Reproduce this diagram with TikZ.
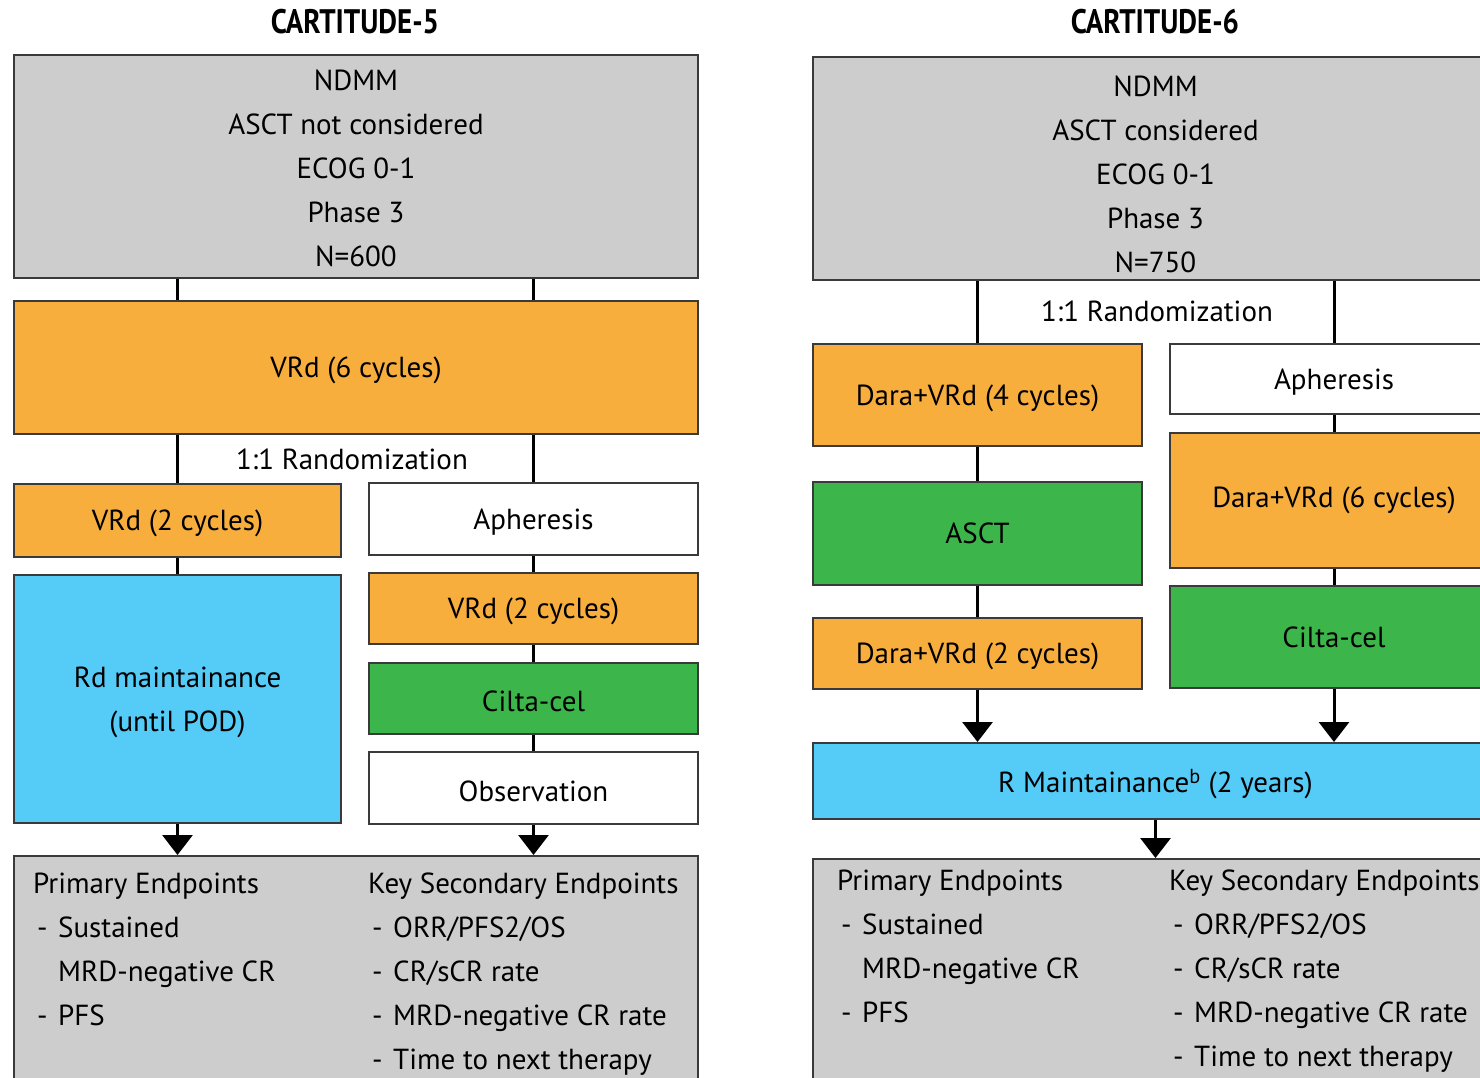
\documentclass[tikz,border=0pt]{standalone}
\usepackage{fontspec}
\setmainfont{PT Sans}
\newfontfamily\ttlfont{PT Sans}[FakeStretch=0.85]
\usetikzlibrary{arrows.meta,calc}
\definecolor{cgray}{HTML}{CDCDCD}
\definecolor{corange}{HTML}{F8AE3C}
\definecolor{cblue}{HTML}{55CBF8}
\definecolor{cgreen}{HTML}{3CB54A}
\definecolor{cborder}{HTML}{3A3A3A}
\tikzset{
  box/.style={draw=cborder, line width=2pt, inner sep=0pt, anchor=north west, align=center,
    font=\fontsize{29}{44}\selectfont},
  txt/.style={inner sep=0pt, font=\fontsize{29}{44}\selectfont},
  ttl/.style={inner sep=0pt, font=\ttlfont\bfseries\fontsize{34}{40}\selectfont},
  conn/.style={draw=black, line width=3pt},
  arr/.style={draw=black, line width=3pt, -{Triangle[width=30pt,length=20pt]}},
}
\newcommand{\dsh}{\makebox[25pt][l]{\hspace{4pt}-}}
\newcommand{\lo}[1]{\raisebox{-3pt}[\height][\depth]{#1}}
\begin{document}
\begin{tikzpicture}[x=1pt,y=-1pt]
\useasboundingbox (0,0) rectangle (1480,1077);
\clip (0,0) rectangle (1480,1077);
% ---------------- CARTITUDE-5 ----------------
\node[ttl] (title5) at (355,22) {CARTITUDE-5};
\node[box, fill=cgray, minimum width=684pt, minimum height=223pt] (ndmm5) at (13,54) {};
\node[txt, align=center] (ndmm5t) at ([yshift=-2pt]ndmm5.center) {NDMM\\ASCT not considered\\ECOG 0-1\\Phase 3\\N=600};
\node[box, fill=corange, minimum width=684pt, minimum height=133pt] (vrd6) at (13,300) {\lo{VRd (6 cycles)}};
\node[txt] (rand5) at (352,459) {1:1 Randomization};
\node[box, fill=corange, minimum width=327pt, minimum height=73pt] (vrd2a) at (13,483) {\lo{VRd (2 cycles)}};
\node[box, fill=cblue, minimum width=327pt, minimum height=248pt] (rd) at (13,574) {};
\node[txt, align=center] (rdt) at ([yshift=-3pt]rd.center) {Rd maintainance\\(until POD)};
\node[box, fill=white, minimum width=329pt, minimum height=72pt] (aph5) at (368,482) {\lo{Apheresis}};
\node[box, fill=corange, minimum width=329pt, minimum height=71pt] (vrd2b) at (368,572) {\lo{VRd (2 cycles)}};
\node[box, fill=cgreen, minimum width=329pt, minimum height=71pt] (cilta5) at (368,662) {\lo{Cilta-cel}};
\node[box, fill=white, minimum width=329pt, minimum height=72pt] (obs) at (368,751) {\lo{Observation}};
\node[box, fill=cgray, minimum width=684pt, minimum height=240pt] (end5) at (13,855) {};
\node[txt, align=left, anchor=north west] (prim5) at (33,873)
  {Primary Endpoints\\\dsh Sustained\\\hspace{25pt}MRD-negative CR\\\dsh PFS};
\node[txt, align=left, anchor=north west] (sec5) at (368,873)
  {Key Secondary Endpoints\\\dsh ORR/PFS2/OS\\\dsh CR/sCR rate\\\dsh MRD-negative CR rate\\\dsh Time to next therapy};
\draw[conn] (vrd2a.north |- ndmm5.south) -- (vrd2a.north |- vrd6.north);
\draw[conn] (aph5.north |- ndmm5.south) -- (aph5.north |- vrd6.north);
\draw[conn] (vrd2a.north |- vrd6.south) -- (vrd2a.north);
\draw[conn] (aph5.north |- vrd6.south) -- (aph5.north);
\draw[conn] (vrd2a.south) -- (rd.north);
\draw[conn] (aph5.south) -- (vrd2b.north);
\draw[conn] (vrd2b.south) -- (cilta5.north);
\draw[conn] (cilta5.south) -- (obs.north);
\draw[arr] (rd.south) -- (rd.south |- end5.north);
\draw[arr] (obs.south) -- (obs.south |- end5.north);
% ---------------- CARTITUDE-6 ----------------
\node[ttl] (title6) at (1155,22) {CARTITUDE-6};
\node[box, fill=cgray, minimum width=685pt, minimum height=223pt] (ndmm6) at (812,56) {};
\node[txt, align=center] (ndmm6t) at ([yshift=-5.5pt]ndmm6.center) {NDMM\\ASCT considered\\ECOG 0-1\\Phase 3\\N=750};
\node[txt] (rand6) at (1157,311) {1:1 Randomization};
\node[box, fill=corange, minimum width=329pt, minimum height=102pt] (dara4) at (812,343) {\lo{Dara+VRd (4 cycles)}};
\node[box, fill=cgreen, minimum width=329pt, minimum height=103pt] (asct) at (812,481) {ASCT};
\node[box, fill=corange, minimum width=329pt, minimum height=71pt] (dara2) at (812,617) {\lo{Dara+VRd (2 cycles)}};
\node[box, fill=white, minimum width=328pt, minimum height=70pt] (aph6) at (1169,343) {\lo{Apheresis}};
\node[box, fill=corange, minimum width=328pt, minimum height=135pt] (dara6) at (1169,432) {Dara+VRd (6 cycles)};
\node[box, fill=cgreen, minimum width=328pt, minimum height=102pt] (cilta6) at (1169,585) {Cilta-cel};
\node[box, fill=cblue, minimum width=685pt, minimum height=76pt] (rmaint) at (812,742) {\lo{R Maintainance\textsuperscript{b} (2 years)}};
\node[box, fill=cgray, minimum width=685pt, minimum height=240pt] (end6) at (812,858) {};
\node[txt, align=left, anchor=north west] (prim6) at (837,870)
  {Primary Endpoints\\\dsh Sustained\\\hspace{25pt}MRD-negative CR\\\dsh PFS};
\node[txt, align=left, anchor=north west] (sec6) at (1169,870)
  {Key Secondary Endpoints\\\dsh ORR/PFS2/OS\\\dsh CR/sCR rate\\\dsh MRD-negative CR rate\\\dsh Time to next therapy};
\draw[conn] (dara4.north |- ndmm6.south) -- (dara4.north);
\draw[conn] (aph6.north |- ndmm6.south) -- (aph6.north);
\draw[conn] (dara4.south) -- (asct.north);
\draw[conn] (asct.south) -- (dara2.north);
\draw[conn] (aph6.south) -- (dara6.north);
\draw[conn] (dara6.south) -- (cilta6.north);
\draw[arr] (dara2.south) -- (dara2.south |- rmaint.north);
\draw[arr] (cilta6.south) -- (cilta6.south |- rmaint.north);
\draw[arr] (rmaint.south) -- (rmaint.south |- end6.north);
\end{tikzpicture}
\end{document}
